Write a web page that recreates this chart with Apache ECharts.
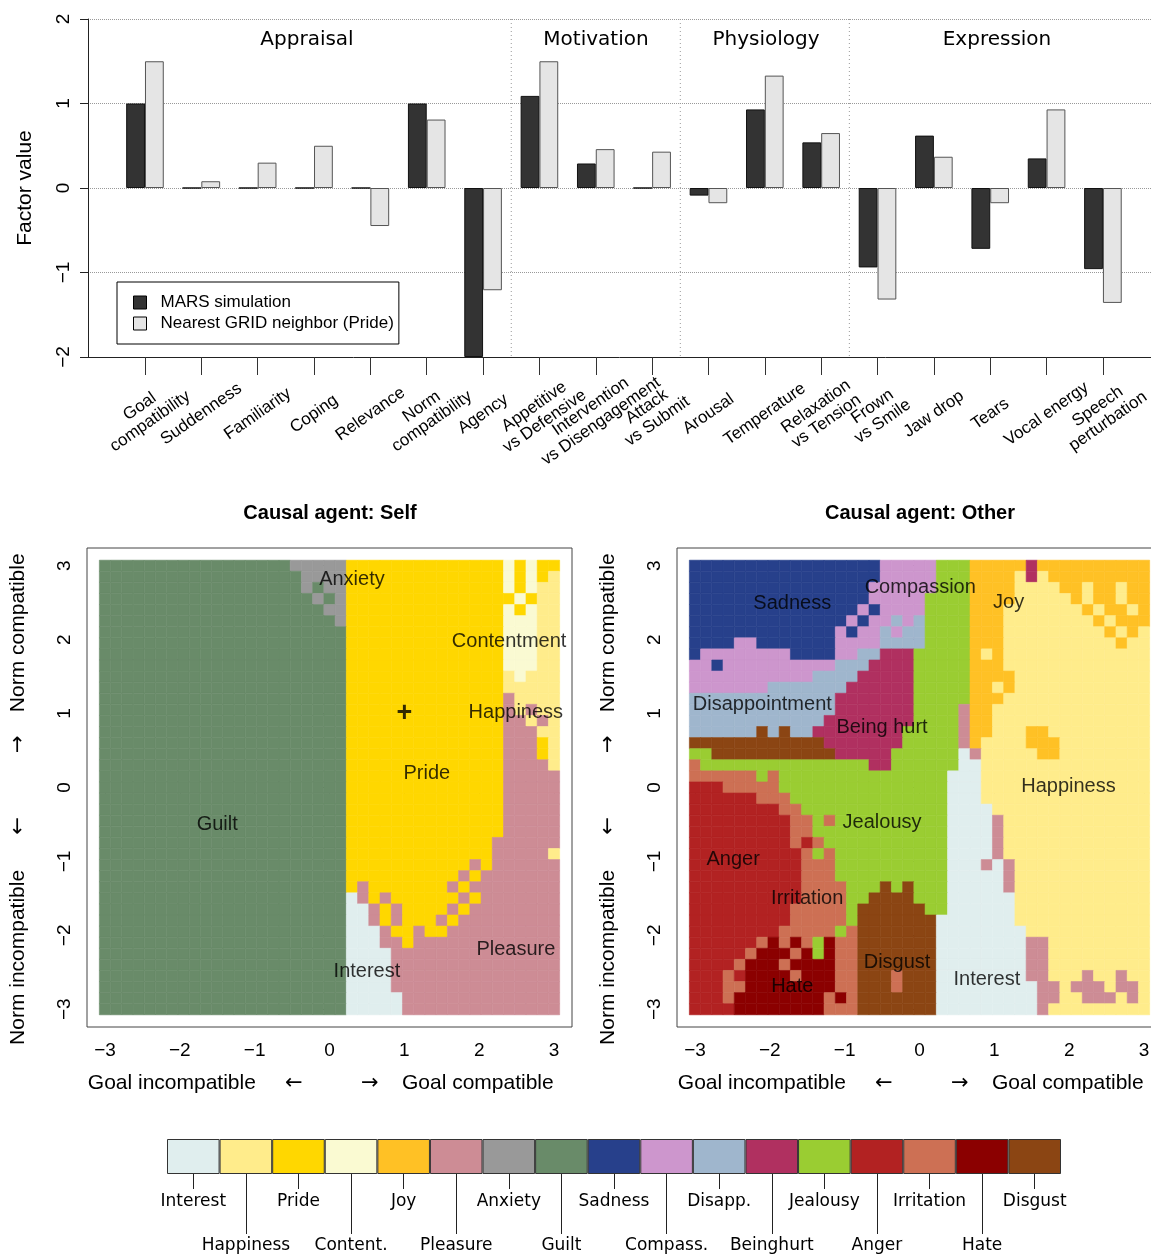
<!DOCTYPE html>
<html><head><meta charset="utf-8">
<script src="https://cdn.jsdelivr.net/npm/echarts@6/dist/echarts.min.js"></script>
<style>html,body{margin:0;padding:0;background:#fff;overflow:hidden}#c{width:1170px;height:1254px}</style>
</head><body><div id="c"></div>
<script>
// ---------- data ----------
const factorLabels = ['Goal\ncompatibility','Suddenness','Familiarity','Coping','Relevance','Norm\ncompatibility','Agency',
  'Appetitive\nvs Defensive','Intervention\nvs Disengagement','Attack\nvs Submit','Arousal','Temperature','Relaxation\nvs Tension',
  'Frown\nvs Smile','Jaw drop','Tears','Vocal energy','Speech\nperturbation'];
const marsValues = [1.0, 0, 0, 0, 0, 1.0, -2.0, 1.09, 0.29, 0, -0.09, 0.93, 0.54, -0.94, 0.62, -0.72, 0.35, -0.96];
const gridValues = [1.5, 0.08, 0.30, 0.50, -0.45, 0.81, -1.21, 1.5, 0.46, 0.43, -0.18, 1.33, 0.65, -1.32, 0.37, -0.18, 0.93, -1.36];
const seriesNames = ['MARS simulation', 'Nearest GRID neighbor (Pride)'];
const sectionNames = ['Appraisal', 'Motivation', 'Physiology', 'Expression'];
const sectionStarts = [7, 10, 13];          // first factor index of Motivation, Physiology, Expression
const factorTicks = [-2, -1, 0, 1, 2];
const mapTicks = [-3, -2, -1, 0, 1, 2, 3];

const emotionNames = ['Interest','Happiness','Pride','Content.','Joy','Pleasure','Anxiety','Guilt','Sadness',
  'Compass.','Disapp.','Beinghurt','Jealousy','Anger','Irritation','Hate','Disgust'];
const emotionCodes = 'IHPTYLXGSCDBJARKU';
const emotionColors = ['#E0EEEE','#FFEC8B','#FFD700','#FAFAD2','#FFC125','#CD8C95','#999999','#698B69','#27408B',
  '#CD96CD','#9FB6CD','#B03060','#9ACD32','#B22222','#CD7054','#8B0000','#8B4513'];

// emotion maps: rows from norm = 3 (top) to -3 (bottom), 41 cells each from goal = -3 to 3 (run-length coded)
const selfRows = [
 'G17X5P14T1P1T1P2','G18X4P14T1P1T1P1H1','G18X1G1X2P14T1P1T1H2','G19X1G1X1P15T1P1H2','G20X2P14T1P1T1H2',
 'G21X1P14T3H2','G22P14T3H2','G22P14T3H2','G22P14T3H2','G22P14T3H2',
 'G22P14H1T1H3','G22P14H5','G22P14L1H4','G22P14L1H1L1H2','G22P14L2H1L1H1',
 'G22P14L3H2','G22P14L3P1H1','G22P14L3P1H1','G22P14L4H1','G22P14L5',
 'G22P14L5','G22P14L5','G22P14L5','G22P14L5','G22P14L5',
 'G22P13L6','G22P13L5H1','G22P11L1P1L6','G22P10L1P1L7','G22P1L1P7L1P1L8',
 'G22I1L1P1L1P6L1P1L7','G22I2L1P1L1P4L1P1L8','G22I2L1P1L1P3L1P1L9','G22I3L1P2L1P2L10','G22I3L2P1L13',
 'G22I4L15','G22I4L15','G22I4L15','G22I4L15','G22I5L14','G22I5L14'
];
const otherRows = [
 'S17C5J3Y5B1Y10','S17C5J3Y4H1B1H1Y9','S16C6J3Y4H4Y2H1Y2H1Y2','S16C5J4Y4H5Y1H1Y2H1Y2',
 'S15C1S1C4J4Y3H7Y1H1Y2H1Y1','S14C1S1C2D1C1D1J4Y3H8Y1H1Y3','S13C1S1C2D1C1D2J4Y3H9Y1H1Y1H1',
 'S4C2S7C4D4J4Y3H10Y1H2','S1C8S4C2D2B3J5Y1H1Y1H13','C2S1C10D3B4J5Y3H13',
 'C11D4B5J5Y4H12','C7D7B6J5Y2H1Y1H12','D13B7J5Y3H13','D13B7J4L1Y2H14','D12B8J4L1Y2H14',
 'D6U1D1U1D2B8J5L1Y2H3Y2H9','U12B7J5L1Y1H4Y3H8','J2U11B5J6I1L1H5Y2H8','R1J15B2J6I2H15','R6J1R1J15I3H15',
 'A3R5J15I3H15','A6R3J14I3H15','A8R2J13I4H14','A9R2J1R1J10I4L1H13','A9R2J12I4L1H13',
 'A9R1A1R1J11I4L1H13','A10R1J1R1J10I4L1H13','A10R3J10I3L1I1L1H12','A10R3J10I5L1H12','A10R4J3U1J1U1J3I5L1H12',
 'A10R4J2U4J3I6H12','A9R5J1U6J2I6H12','A9R5J1U7I7H12','A8R5J1R1U7I8H11','A6R1K1R1K1R1J1K1R2U7I8L2H9',
 'A5R1K3R1K1J1K1R2U7I8L2H9','A4R1K3R1K4R2U7I8L2H9','A3R1A1K4R1K3R2U3R1U3I8L2H3L1H2L1H2',
 'A3R2K8R2U3R1U3I9L2H1L3H1L2H1','A3R1K8R1K1R1U7I9L2H2L3H1L1H1','A4K8R3U7I9L1H9'
];
const selfLabels = [
 {name:'Anxiety', value:[0.30, 2.81]}, {name:'Contentment', value:[2.40, 1.98]}, {name:'+', value:[1.0, 1.0]},
 {name:'Happiness', value:[2.49, 1.01]}, {name:'Pride', value:[1.30, 0.19]}, {name:'Guilt', value:[-1.50, -0.50]},
 {name:'Pleasure', value:[2.49, -2.19]}, {name:'Interest', value:[0.50, -2.49]}
];
const otherLabels = [
 {name:'Sadness', value:[-1.70, 2.49]}, {name:'Compassion', value:[0.01, 2.70]}, {name:'Joy', value:[1.19, 2.50]},
 {name:'Disappointment', value:[-2.10, 1.12]}, {name:'Being hurt', value:[-0.50, 0.81]}, {name:'Happiness', value:[1.99, 0.02]},
 {name:'Jealousy', value:[-0.50, -0.48]}, {name:'Anger', value:[-2.49, -0.97]}, {name:'Irritation', value:[-1.50, -1.50]},
 {name:'Disgust', value:[-0.30, -2.37]}, {name:'Interest', value:[0.90, -2.60]}, {name:'Hate', value:[-1.70, -2.69]}
];

// ---------- build ----------
const N = 41, STEP = 6 / (N - 1), HALF = STEP / 2;
function decode(rows) {
  const out = [];
  rows.forEach((r, j) => {
    let i = 0;
    r.replace(/([A-Z])(\d+)/g, (m, ch, n) => {
      for (let k = 0; k < +n; k++) { out.push([-3 + i * STEP, 3 - j * STEP, emotionCodes.indexOf(ch)]); i++; }
      return m;
    });
    if (i !== N) console.warn('row', j, 'has', i);
  });
  return out;
}
const minus = v => (v < 0 ? '\u2212' : '') + Math.abs(v);
const FONT = 'Liberation Sans';

function cellRender(params, api) {
  const x = api.value(0), y = api.value(1), c = api.value(2);
  const p0 = api.coord([x - HALF, y + HALF]);
  const p1 = api.coord([x + HALF, y - HALF]);
  const col = emotionColors[c];
  return { type: 'rect', shape: { x: p0[0], y: p0[1], width: p1[0] - p0[0], height: p1[1] - p0[1] },
           style: { fill: col, stroke: col, lineWidth: 0.6 } };
}
function dividerRender(params, api) {
  const i = api.value(0);
  const bw = api.size([1, 0])[0];
  const x = api.coord([i, 0])[0] - bw / 2;
  const cs = params.coordSys;
  return { type: 'line', shape: { x1: x, y1: cs.y, x2: x, y2: cs.y + cs.height },
           style: { stroke: '#999', lineWidth: 1, lineDash: [1, 3] } };
}
const nameRich = {
  t: { fontSize: 21, fontFamily: FONT, color: '#000' },
  a: { fontSize: 21, fontFamily: 'DejaVu Sans', color: '#000' }
};
function mapXAxis(gi) {
  return { gridIndex: gi, type: 'value', min: -3.24, max: 3.24,
    name: '{t|Goal incompatible     }{a|\u2190}{t|          }{a|\u2192}{t|    Goal compatible   }',
    nameLocation: 'middle', nameGap: 46,
    nameTextStyle: { rich: nameRich },
    axisLine: { show: false }, splitLine: { show: false },
    axisTick: { show: true, customValues: mapTicks, length: 8, lineStyle: { color: '#333' } },
    axisLabel: { customValues: mapTicks, formatter: minus, fontSize: 19, color: '#000', margin: 14, fontFamily: FONT } };
}
function mapYAxis(gi) {
  return { gridIndex: gi, type: 'value', min: -3.24, max: 3.24,
    name: '{t|Norm incompatible      }{a|\u2190}{t|           }{a|\u2192}{t|    Norm compatible    }',
    nameLocation: 'middle', nameGap: 58, nameRotate: 90,
    nameTextStyle: { rich: nameRich },
    axisLine: { show: false }, splitLine: { show: false },
    axisTick: { show: true, customValues: mapTicks, length: 8, lineStyle: { color: '#333' } },
    axisLabel: { customValues: mapTicks, formatter: minus, rotate: 90, fontSize: 19, color: '#000', margin: 13, fontFamily: FONT } };
}
function labelSeries(data, gi) {
  return { type: 'scatter', xAxisIndex: gi, yAxisIndex: gi, data: data, symbolSize: 1, z: 5,
    itemStyle: { color: 'rgba(0,0,0,0)' },
    label: { show: true, position: 'inside', fontSize: 20, color: '#000', fontFamily: FONT,
      formatter: p => p.name === '+' ? '{plus|+}' : p.name,
      rich: { plus: { fontSize: 27, fontWeight: 'bold', fontFamily: FONT, color: '#000' } } } };
}

const option = {
  animation: false,
  backgroundColor: '#fff',
  textStyle: { fontFamily: FONT, color: '#000' },
  grid: [
    { left: 88, top: 19, width: 1063, height: 338 },            // 0 frame of factor chart
    { left: 116.8, top: 19, width: 1014.3, height: 338 },      // 1 bars
    { left: 87, top: 548, width: 485, height: 479, show: true, borderColor: '#444', borderWidth: 1 }, // 2 self map
    { left: 677, top: 548, width: 485, height: 479, show: true, borderColor: '#444', borderWidth: 1 }, // 3 other map
    { left: 167, top: 1139, width: 894, height: 35 }            // 4 colour key
  ],
  legend: {
    data: seriesNames, left: 117, top: 282, orient: 'vertical', icon: 'rect',
    backgroundColor: '#fff', borderColor: '#000', borderWidth: 1, borderRadius: 0,
    padding: [12, 5, 12, 16], itemGap: 4, itemWidth: 13, itemHeight: 13,
    itemStyle: { borderColor: '#000', borderWidth: 1 },
    textStyle: { fontSize: 17, color: '#000', fontFamily: FONT, padding: [0, 0, 0, 9], lineHeight: 16 }
  },
  xAxis: [
    { gridIndex: 0, type: 'value', min: 0, max: 1, axisLine: { show: true, onZero: false, lineStyle: { color: '#222' } },
      axisTick: { show: false }, axisLabel: { show: false }, splitLine: { show: false } },
    { gridIndex: 1, type: 'category', data: factorLabels, axisLine: { show: false, onZero: false },
      axisTick: { show: true, alignWithLabel: true, length: 18, lineStyle: { color: '#333' } },
      axisLabel: { interval: 0, rotate: 35, align: 'center', verticalAlign: 'middle', margin: 57, fontSize: 17,
        lineHeight: 18, color: '#000', fontFamily: FONT, hideOverlap: false },
      splitLine: { show: false } },
    mapXAxis(2), mapXAxis(3),
    { gridIndex: 4, type: 'category', data: emotionNames, position: 'bottom', offset: 0, axisLine: { show: false },
      axisTick: { show: true, alignWithLabel: true, interval: (i) => i % 2 === 0, length: 15, lineStyle: { color: '#222' } },
      axisLabel: { interval: (i) => i % 2 === 0, margin: 19, fontSize: 17, color: '#000', fontFamily: 'DejaVu Sans' } },
    { gridIndex: 4, type: 'category', data: emotionNames, position: 'bottom', offset: 0, axisLine: { show: false },
      axisTick: { show: true, alignWithLabel: true, interval: (i) => i % 2 === 1, length: 60, lineStyle: { color: '#222' } },
      axisLabel: { interval: (i) => i % 2 === 1, margin: 63, fontSize: 17, color: '#000', fontFamily: 'DejaVu Sans' } }
  ],
  yAxis: [
    { gridIndex: 0, type: 'value', min: -2, max: 2, interval: 0.5,
      name: 'Factor value', nameLocation: 'middle', nameGap: 52, nameRotate: 90,
      nameTextStyle: { fontSize: 21, color: '#000', fontFamily: FONT },
      axisLine: { show: true, lineStyle: { color: '#222' } },
      axisTick: { show: true, customValues: factorTicks, length: 8, lineStyle: { color: '#222' } },
      axisLabel: { customValues: factorTicks, formatter: minus, rotate: 90, fontSize: 19, color: '#000', margin: 15 },
      splitLine: { show: true, lineStyle: { color: '#999', type: 'dotted', width: 1 } } },
    { gridIndex: 1, type: 'value', min: -2, max: 2, show: false },
    mapYAxis(2), mapYAxis(3),
    { gridIndex: 4, type: 'value', min: 0, max: 1, show: false }
  ],
  series: [
    { name: seriesNames[0], type: 'bar', xAxisIndex: 1, yAxisIndex: 1, data: marsValues, barWidth: 18.8, barGap: '0%',
      itemStyle: { color: '#333333', borderColor: '#111', borderWidth: 1 } },
    { name: seriesNames[1], type: 'bar', xAxisIndex: 1, yAxisIndex: 1, data: gridValues, barWidth: 18.8, barGap: '0%',
      itemStyle: { color: '#E5E5E5', borderColor: '#555', borderWidth: 1 } },
    { type: 'custom', xAxisIndex: 1, yAxisIndex: 1, data: sectionStarts.map(s => [s, 0]), renderItem: dividerRender, silent: true, z: 1 },
    { type: 'custom', xAxisIndex: 2, yAxisIndex: 2, data: decode(selfRows), renderItem: cellRender, silent: true },
    { type: 'custom', xAxisIndex: 3, yAxisIndex: 3, data: decode(otherRows), renderItem: cellRender, silent: true },
    labelSeries(selfLabels, 2), labelSeries(otherLabels, 3),
    { type: 'bar', xAxisIndex: 4, yAxisIndex: 4, barCategoryGap: '0%',
      data: emotionColors.map((c) => ({ value: 1, itemStyle: { color: c } })),
      itemStyle: { borderColor: '#333', borderWidth: 1 } }
  ],
  graphic: [
    { type: 'text', x: 307, y: 40, style: { text: sectionNames[0], align: 'center', verticalAlign: 'middle', fontSize: 20, fontFamily: 'DejaVu Sans', fill: '#000' } },
    { type: 'text', x: 596, y: 40, style: { text: sectionNames[1], align: 'center', verticalAlign: 'middle', fontSize: 20, fontFamily: 'DejaVu Sans', fill: '#000' } },
    { type: 'text', x: 766, y: 40, style: { text: sectionNames[2], align: 'center', verticalAlign: 'middle', fontSize: 20, fontFamily: 'DejaVu Sans', fill: '#000' } },
    { type: 'text', x: 997, y: 40, style: { text: sectionNames[3], align: 'center', verticalAlign: 'middle', fontSize: 20, fontFamily: 'DejaVu Sans', fill: '#000' } },
    { type: 'text', x: 330, y: 513, style: { text: 'Causal agent: Self', align: 'center', verticalAlign: 'middle', fontSize: 20, fontWeight: 'bold', fontFamily: FONT, fill: '#000' } },
    { type: 'text', x: 920, y: 513, style: { text: 'Causal agent: Other', align: 'center', verticalAlign: 'middle', fontSize: 20, fontWeight: 'bold', fontFamily: FONT, fill: '#000' } }
  ]
};
const chart = echarts.init(document.getElementById('c'), null, { renderer: 'canvas' });
chart.setOption(option);
</script></body></html>
